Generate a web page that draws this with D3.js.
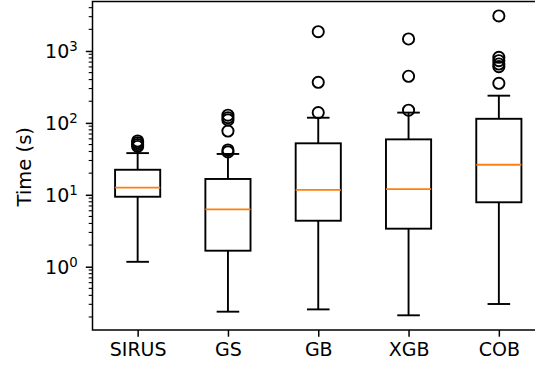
<!DOCTYPE html>
<html>
<head>
<meta charset="utf-8">
<script src="https://cdn.jsdelivr.net/npm/d3@7"></script>
<style>
body { margin: 0; background: #fff; }
svg { display: block; font-family: "DejaVu Sans", sans-serif; }
</style>
</head>
<body>
<svg width="535" height="366"></svg>
<script>
var categories = [ "SIRUS", "GS", "GB", "XGB", "COB" ];
var whiskerLow = [ 1.17, 0.237, 0.255, 0.211, 0.303 ];
var q1 = [ 9.4, 1.67, 4.36, 3.38, 7.87 ];
var median = [ 12.6, 6.28, 11.7, 12.0, 26.2 ];
var q3 = [ 22.3, 16.6, 52, 59, 114 ];
var whiskerHigh = [ 38, 37, 118, 139, 239 ];
var fliers = [ [ 47, 50, 53, 56 ], [ 39.5, 42, 77, 110, 118, 128 ],
		[ 139, 367, 1855 ], [ 150, 445, 1468 ],
		[ 355, 605, 659, 733, 817, 3069 ] ];
var yTickValues = [ 1, 10, 100, 1000 ];
var yTickExponents = [ "0", "1", "2", "3" ];

var data = categories.map(function(c, i) {
	return {
		name : c,
		pos : i + 1,
		lo : whiskerLow[i],
		q1 : q1[i],
		med : median[i],
		q3 : q3[i],
		hi : whiskerHigh[i],
		fliers : fliers[i]
	};
});

var svg = d3.select("svg");
var plotL = 92.5, plotT = 1.5, plotR = 544, plotB = 330;
var xScale = d3.scaleLinear().domain([ 0.5, 5.5 ]).range([ plotL, plotR ]);
var yScale = d3.scaleLog().domain([ Math.pow(10, -0.88), Math.pow(10, 3.688) ])
		.range([ plotB, plotT ]);
var boxW = xScale(1.25) - xScale(1);
var capW = xScale(1.125) - xScale(1);

// minor ticks
var minor = yScale.ticks().filter(function(t) {
	return yTickValues.indexOf(t) < 0;
});
svg.append("g").selectAll("line").data(minor).enter().append("line")
		.attr("x1", plotL - 3.8).attr("x2", plotL).attr("y1", function(d) {
			return yScale(d);
		}).attr("y2", function(d) {
			return yScale(d);
		}).attr("stroke", "#000").attr("stroke-width", 1.1);

var yAxis = svg.append("g").attr("transform", "translate(" + plotL + ",0)")
		.call(d3.axisLeft(yScale).tickValues(yTickValues).tickSize(6.7)
				.tickFormat(""));
yAxis.attr("font-family", null).attr("font-size", null);
yAxis.select(".domain").remove();
yAxis.selectAll(".tick text").remove();
yAxis.selectAll(".tick line").attr("stroke-width", 1.5);
var yLab = yAxis.selectAll(".tick").append("text").attr("fill", "#000")
		.attr("x", -14.8).attr("y", 6.6).attr("text-anchor", "end")
		.style("font-size", "19px").text("10");
yLab.append("tspan").attr("dy", -7).style("font-size", "13.3px").text(
		function(d) {
			return yTickExponents[yTickValues.indexOf(d)];
		});

var xAxis = svg.append("g").attr("transform", "translate(0," + plotB + ")")
		.call(d3.axisBottom(xScale).tickValues([ 1, 2, 3, 4, 5 ]).tickSize(6.7)
				.tickPadding(5.5).tickFormat(function(d) {
					return categories[d - 1];
				}));
xAxis.attr("font-family", null).attr("font-size", null);
xAxis.select(".domain").remove();
xAxis.selectAll(".tick line").attr("stroke-width", 1.5);
xAxis.selectAll(".tick text").attr("fill", "#000").style("font-size", "19px");

svg.append("text").attr("transform", "translate(31," + ((plotT + plotB) / 2 + 1)
		+ ") rotate(-90)").attr("text-anchor", "middle").style("font-size",
		"19.5px").text("Time (s)");

var boxG = svg.append("g").selectAll("g").data(data).enter().append("g");
boxG.append("line").attr("x1", function(d) {
	return xScale(d.pos);
}).attr("x2", function(d) {
	return xScale(d.pos);
}).attr("y1", function(d) {
	return yScale(d.lo);
}).attr("y2", function(d) {
	return yScale(d.q1);
}).attr("stroke", "#000").attr("stroke-width", 1.9);
boxG.append("line").attr("x1", function(d) {
	return xScale(d.pos);
}).attr("x2", function(d) {
	return xScale(d.pos);
}).attr("y1", function(d) {
	return yScale(d.q3);
}).attr("y2", function(d) {
	return yScale(d.hi);
}).attr("stroke", "#000").attr("stroke-width", 1.9);
[ "lo", "hi" ].forEach(function(k) {
	boxG.append("line").attr("x1", function(d) {
		return xScale(d.pos) - capW;
	}).attr("x2", function(d) {
		return xScale(d.pos) + capW;
	}).attr("y1", function(d) {
		return yScale(d[k]);
	}).attr("y2", function(d) {
		return yScale(d[k]);
	}).attr("stroke", "#000").attr("stroke-width", 1.9);
});
boxG.append("rect").attr("x", function(d) {
	return xScale(d.pos) - boxW;
}).attr("width", 2 * boxW).attr("y", function(d) {
	return yScale(d.q3);
}).attr("height", function(d) {
	return yScale(d.q1) - yScale(d.q3);
}).attr("fill", "none").attr("stroke", "#000").attr("stroke-width", 1.9);
boxG.append("line").attr("x1", function(d) {
	return xScale(d.pos) - boxW;
}).attr("x2", function(d) {
	return xScale(d.pos) + boxW;
}).attr("y1", function(d) {
	return yScale(d.med);
}).attr("y2", function(d) {
	return yScale(d.med);
}).attr("stroke", "#ff7f0e").attr("stroke-width", 1.9);
boxG.selectAll("circle").data(function(d) {
	return d.fliers.map(function(v) {
		return {
			pos : d.pos,
			v : v
		};
	});
}).enter().append("circle").attr("cx", function(d) {
	return xScale(d.pos);
}).attr("cy", function(d) {
	return yScale(d.v);
}).attr("r", 5.6).attr("fill", "none").attr("stroke", "#000").attr(
		"stroke-width", 1.9);

svg.append("rect").attr("x", plotL).attr("y", plotT).attr("width", plotR - plotL)
		.attr("height", plotB - plotT).attr("fill", "none").attr("stroke", "#000")
		.attr("stroke-width", 1.5);
</script>
</body>
</html>
